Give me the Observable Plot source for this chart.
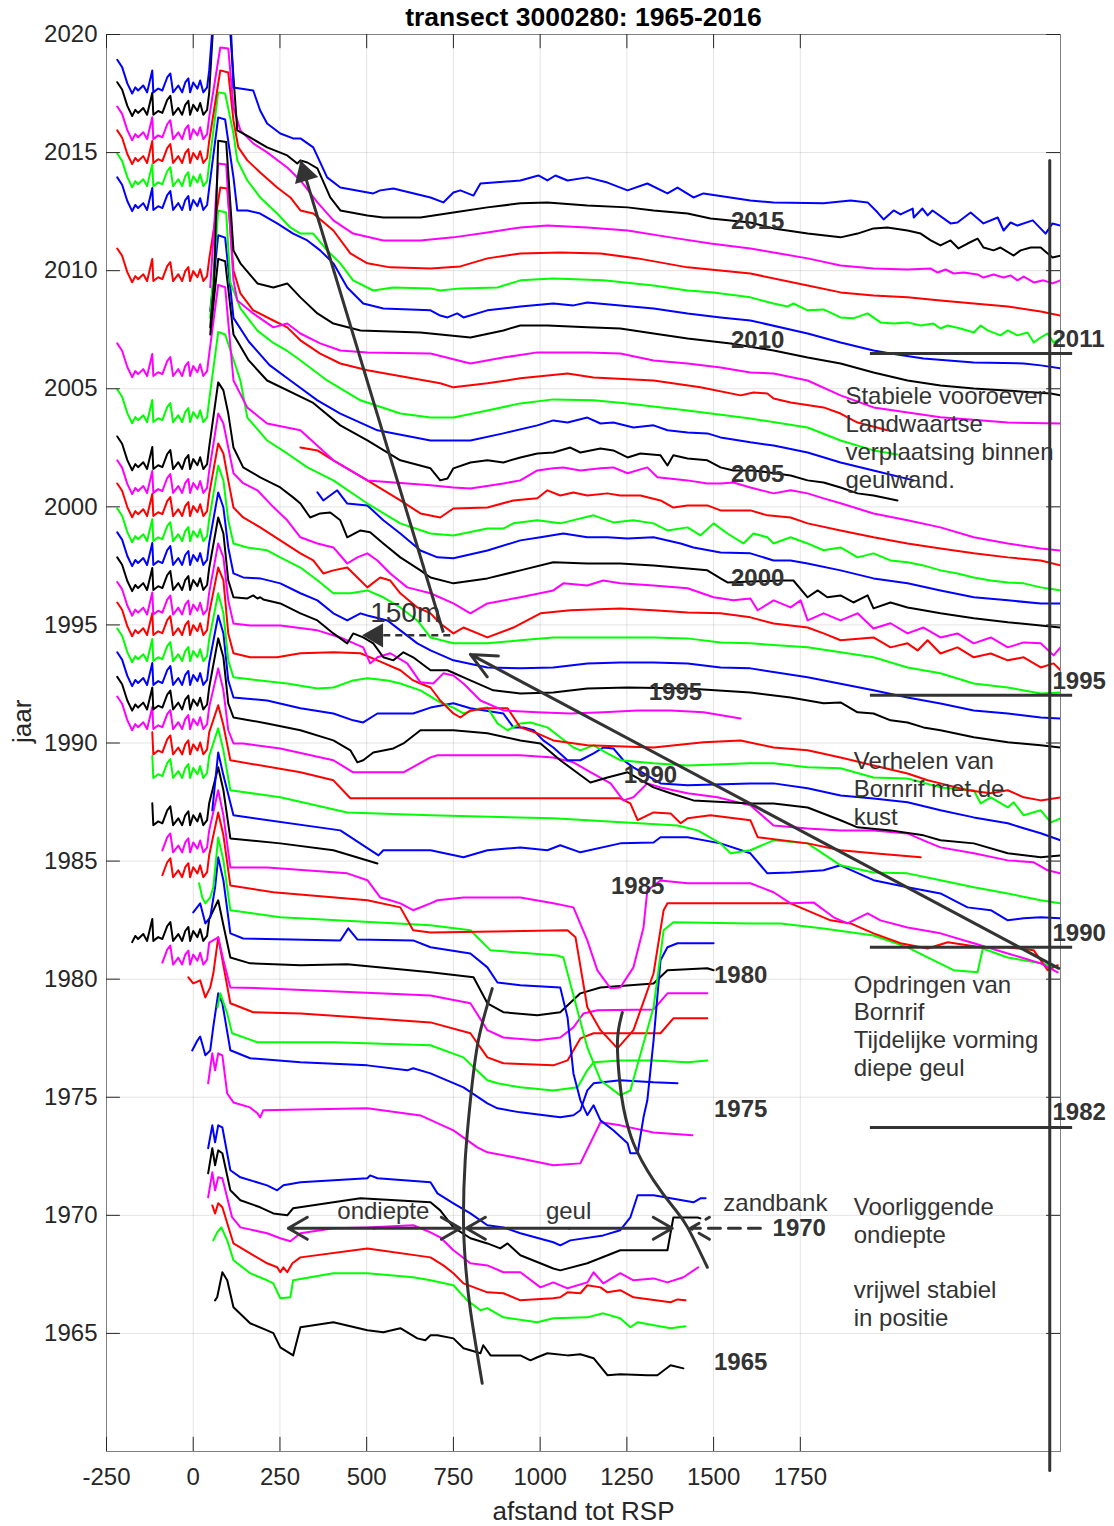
<!DOCTYPE html>
<html><head><meta charset="utf-8">
<script src="https://cdn.jsdelivr.net/npm/d3@7"></script>
<script src="https://cdn.jsdelivr.net/npm/@observablehq/plot@0.6"></script>
<style>body{margin:0;background:#fff}</style>
</head><body><div id="chart"></div>
<script>
// ---------- axes ----------
const xTicks = [-250, 0, 250, 500, 750, 1000, 1250, 1500, 1750];
const yTicks = [1965, 1970, 1975, 1980, 1985, 1990, 1995, 2000, 2005, 2010, 2015, 2020];
const palette = ["#000000", "#0000ff", "#00ff00", "#ff0000", "#ff00ff"]; // by year mod 5

// ---------- dune zone pattern (left part, shared) ----------
const duneX  = [-219,-205,-190,-176,-167,-159,-144,-133,-118,-115,-101,-89,-75,-66,-58,-43,-32,-23,-14,-9,0,12,20,29,40,46];
const duneDY = [0,-0.31,-1.0,-1.43,-1.17,-1.3,-1.09,-1.38,-0.45,-1.38,-1.22,-1.3,-0.75,-0.58,-1.38,-1.09,-1.38,-0.96,-0.79,-1.38,-0.96,-1.22,-0.88,-1.38,-1.17,-0.45];
const duneYears = [2016,2015,2014,2013,2012,2011,2008,2004,2002,2000,1999,1998,1997,1996,1995,1994,1993,1992,1991,1990,1989,1988,1987,1985,1984,1983,1980,1979];
const duneBase  = [2018.93,2017.98,2016.95,2015.94,2014.96,2013.95,2010.94,2006.92,2004.97,2002.98,2001.97,2000.99,1999.93,1998.92,1997.86,1996.82,1995.95,1994.85,1993.84,1992.8,1991.97,1990.9,1989.9,1987.9,1986.75,1985.7,1983.0,1982.0];
const duneStart = [-220,-220,-220,-220,-220,-220,-220,-220,-220,-220,-220,-220,-220,-220,-220,-220,-220,-220,-220,-220,-220,-125,-120,-120,-95,-100,-185,-100];

// ---------- profiles: [afstand (m), plotted year-level] ----------
const p2016 = [[62,2021.5],[105,2021.5],[116,2017.76],[173,2017.63],[193,2016.78],[213,2016.23],[251,2015.81],[288,2015.6],[309,2015.6],[346,2015.22],[386,2013.95],[424,2013.52],[519,2013.27],[539,2013.4],[577,2013.48],[684,2013.1],[721,2012.89],[750,2013.31],[770,2013.4],[808,2013.18],[828,2013.69],[943,2013.82],[995,2014.03],[1021,2013.82],[1044,2014.03],[1079,2013.82],[1136,2013.95],[1194,2013.73],[1252,2013.4],[1309,2013.69],[1367,2013.27],[1396,2013.52],[1442,2013.1],[1471,2013.27],[1606,2012.97],[1673,2012.89],[1817,2012.85],[1895,2012.97],[1944,2012.89],[1973,2012.46],[1990,2012.17],[2019,2012.55],[2039,2012.38],[2074,2012.63],[2077,2012.25],[2102,2012.63],[2117,2012.34],[2131,2012.55],[2183,2012.0],[2203,2012.04],[2241,2012.46],[2278,2012.0],[2319,2012.25],[2336,2011.7],[2356,2012.04],[2376,2011.91],[2420,2012.13],[2457,2011.57],[2477,2012.0],[2500,2011.91]];
const p2015 = [[62,2021.5],[100,2021.5],[127,2015.94],[164,2015.64],[213,2015.22],[271,2014.88],[300,2014.54],[309,2014.67],[329,2014.58],[358,2014.33],[395,2013.1],[424,2012.55],[502,2012.34],[548,2012.25],[655,2012.25],[750,2012.46],[848,2012.68],[943,2012.85],[1021,2012.89],[1136,2012.76],[1252,2012.68],[1327,2012.55],[1425,2012.42],[1491,2012.21],[1606,2012.04],[1673,2011.79],[1771,2011.57],[1866,2011.41],[1915,2011.57],[1961,2011.79],[2001,2011.83],[2059,2011.7],[2097,2011.57],[2126,2011.28],[2154,2011.07],[2183,2011.28],[2206,2010.94],[2232,2011.15],[2261,2011.36],[2278,2010.98],[2307,2010.86],[2327,2010.98],[2365,2010.64],[2385,2010.86],[2414,2010.98],[2443,2010.98],[2463,2010.73],[2477,2010.56],[2500,2010.64]];
const p2014 = [[78,2019.45],[101,2019.41],[116,2016.91],[136,2015.94],[173,2015.39],[213,2015.01],[271,2014.37],[309,2013.82],[358,2012.89],[404,2012.13],[461,2011.57],[548,2011.28],[655,2011.28],[750,2011.41],[848,2011.62],[943,2011.83],[1021,2011.91],[1136,2011.83],[1252,2011.7],[1376,2011.41],[1491,2011.15],[1606,2010.94],[1673,2010.77],[1771,2010.52],[1866,2010.22],[1961,2010.09],[2059,2010.05],[2126,2010.09],[2146,2009.92],[2169,2010.05],[2192,2009.88],[2221,2009.92],[2261,2009.84],[2278,2009.71],[2307,2009.84],[2336,2009.71],[2356,2009.8],[2376,2009.59],[2394,2009.75],[2423,2009.5],[2451,2009.59],[2477,2009.46],[2500,2009.59]];
const p2013 = [[78,2018.48],[101,2018.39],[116,2016.36],[130,2015.22],[156,2014.67],[193,2014.16],[242,2013.52],[280,2013.1],[309,2012.55],[346,2012.42],[404,2011.7],[453,2010.73],[502,2010.31],[568,2010.14],[684,2010.09],[770,2010.18],[848,2010.52],[943,2010.73],[1058,2010.77],[1174,2010.73],[1281,2010.52],[1425,2010.14],[1606,2009.88],[1771,2009.37],[1866,2009.08],[1961,2008.95],[2059,2008.87],[2154,2008.74],[2250,2008.61],[2348,2008.48],[2443,2008.27],[2500,2008.1]];
const p2012 = [[72,2017.55],[92,2017.5],[116,2015.81],[127,2014.67],[156,2013.82],[193,2013.1],[242,2012.42],[280,2011.83],[309,2011.57],[346,2011.57],[386,2010.86],[424,2010.31],[461,2009.59],[519,2009.16],[577,2009.29],[684,2009.25],[712,2009.16],[770,2009.25],[877,2009.29],[943,2009.59],[1038,2009.67],[1182,2009.59],[1327,2009.37],[1425,2009.16],[1500,2009.08],[1606,2008.87],[1673,2008.61],[1713,2008.48],[1730,2008.61],[1771,2008.32],[1817,2008.36],[1866,2008.02],[1903,2007.98],[1944,2008.19],[1981,2007.81],[2019,2007.76],[2059,2007.81],[2097,2007.68],[2134,2007.76],[2154,2007.55],[2175,2007.68],[2212,2007.55],[2250,2007.38],[2270,2007.68],[2290,2007.47],[2327,2007.26],[2348,2007.47],[2376,2007.26],[2405,2007.38],[2423,2006.96],[2443,2007.17],[2463,2007.34],[2480,2006.96],[2500,2007.13]];
const p2011 = [[72,2016.49],[92,2016.4],[116,2013.95],[127,2012.55],[156,2012.55],[193,2012.42],[242,2012.0],[288,2011.57],[329,2011.28],[366,2010.86],[404,2010.31],[444,2009.29],[490,2008.61],[548,2008.4],[684,2008.32],[712,2008.1],[733,2008.02],[761,2008.19],[779,2008.02],[848,2008.32],[943,2008.48],[1038,2008.61],[1096,2008.53],[1136,2008.65],[1231,2008.53],[1327,2008.4],[1425,2008.19],[1520,2008.02],[1606,2007.89],[1771,2007.34],[1866,2006.96],[1961,2006.62],[2010,2006.49],[2105,2006.28],[2250,2006.11],[2394,2006.07],[2443,2005.99],[2500,2005.86]];
const p2010 = [[49,2007.6],[60,2009.5],[72,2015.5],[95,2015.45],[116,2010.86],[136,2010.31],[185,2009.46],[231,2009.29],[271,2009.46],[309,2008.87],[358,2008.19],[404,2007.76],[482,2007.47],[655,2007.38],[799,2007.17],[894,2007.47],[943,2007.68],[1021,2007.68],[1136,2007.6],[1231,2007.55],[1327,2007.34],[1425,2007.13],[1549,2006.92],[1673,2006.62],[1771,2006.32],[1866,2006.07],[1961,2005.69],[2059,2005.35],[2154,2005.14],[2250,2005.01],[2472,2004.8],[2500,2004.72]];
const p2009 = [[49,2009.3],[72,2014.54],[95,2014.5],[116,2009.59],[127,2008.74],[173,2008.19],[231,2007.6],[271,2007.76],[309,2007.34],[366,2006.92],[424,2006.62],[502,2006.54],[684,2006.49],[799,2006.07],[894,2006.32],[992,2006.54],[1136,2006.54],[1231,2006.49],[1327,2006.2],[1425,2006.07],[1520,2005.9],[1606,2005.69],[1673,2005.65],[1771,2005.35],[1866,2004.72],[1961,2004.21],[2154,2003.79],[2348,2003.57],[2500,2003.53]];
const p2008 = [[78,2013.52],[98,2013.48],[116,2010.01],[136,2009.04],[173,2008.32],[231,2007.89],[271,2007.6],[309,2007.05],[366,2006.49],[424,2006.07],[502,2005.78],[712,2005.23],[750,2005.06],[848,2005.23],[943,2005.44],[1079,2005.65],[1154,2005.48],[1327,2005.35],[1462,2005.06],[1578,2004.72],[1615,2004.84],[1655,2004.8],[1673,2004.59],[1722,2004.42],[1817,2004.21],[1866,2003.95],[1915,2003.57],[2001,2003.24]];
const p2007 = [[49,2008.0],[72,2012.55],[95,2012.46],[107,2009.5],[136,2008.4],[185,2007.46],[231,2006.94],[271,2006.6],[300,2006.3],[386,2005.35],[482,2004.51],[597,2003.95],[684,2003.78],[750,2003.78],[848,2004.08],[943,2004.38],[1038,2004.55],[1154,2004.51],[1252,2004.38],[1425,2004.08],[1606,2003.74],[1771,2003.36],[1866,2002.81],[1961,2002.39],[2030,2002.22]];
const p2006 = [[49,2008.3],[72,2011.5],[92,2011.4],[116,2008.0],[160,2007.0],[220,2006.0],[280,2005.35],[358,2004.51],[424,2003.95],[531,2003.24],[684,2002.81],[799,2002.81],[894,2003.11],[992,2003.45],[1038,2003.66],[1079,2003.57],[1136,2003.78],[1174,2003.53],[1211,2003.57],[1269,2003.36],[1327,2003.45],[1367,2003.24],[1425,2003.15],[1482,2003.11],[1520,2002.94],[1606,2002.73],[1673,2002.6],[1771,2002.3],[1866,2001.88],[1961,2001.54],[2077,2001.12]];
const p2005 = [[49,2007.3],[72,2010.5],[92,2010.4],[116,2007.3],[160,2006.2],[213,2005.35],[346,2004.4],[424,2003.45],[502,2002.81],[597,2001.97],[684,2001.63],[712,2001.12],[733,2001.2],[750,2001.63],[799,2001.88],[848,2001.97],[894,2001.88],[943,2002.09],[992,2002.26],[1038,2002.3],[1087,2002.51],[1116,2002.3],[1174,2002.47],[1211,2002.39],[1252,2002.09],[1289,2002.26],[1347,2002.18],[1367,2001.75],[1384,2002.18],[1425,2002.05],[1482,2001.97],[1520,2001.67],[1557,2001.54],[1615,2001.54],[1722,2001.33],[1771,2001.12],[1817,2001.03],[1866,2000.82],[1915,2000.57],[1961,2000.48],[2030,2000.27]];
const p2004 = [[72,2009.4],[92,2009.3],[116,2005.35],[156,2004.2],[213,2003.53],[309,2003.24],[404,2001.97],[502,2001.12],[684,2000.91],[750,2000.82],[799,2000.78],[894,2000.99],[943,2001.12],[992,2001.54],[1038,2001.63],[1067,2001.67],[1116,2001.54],[1174,2001.63],[1211,2001.67],[1252,2001.42],[1309,2001.67],[1338,2001.25],[1425,2001.12],[1482,2000.99],[1520,2000.99],[1557,2001.03],[1606,2000.82],[1673,2000.57],[1722,2000.7],[1771,2000.57],[1817,2000.36],[1866,2000.15],[1961,1999.72],[2059,1999.43],[2154,1999.13],[2250,1998.71],[2348,1998.45],[2443,1998.24],[2500,1998.15]];
const p2003 = [[309,2002.51],[358,2002.39],[404,2001.97],[502,2001.12],[597,2000.27],[655,1999.72],[712,1999.55],[750,1999.93],[848,1999.97],[923,2000.27],[992,2000.36],[1021,2000.7],[1058,2000.48],[1096,2000.61],[1136,2000.48],[1194,2000.57],[1231,2000.48],[1289,2000.48],[1347,2000.27],[1384,1999.97],[1425,2000.06],[1482,2000.06],[1520,1999.85],[1606,1999.85],[1655,1999.64],[1722,1999.55],[1771,1999.3],[1866,1999.0],[1961,1998.71],[2059,1998.45],[2154,1998.24],[2250,1998.03],[2348,1997.86],[2443,1997.73],[2500,1997.52]];
const p2002 = [[72,2007.4],[92,2007.3],[136,2005.35],[156,2003.78],[213,2002.81],[271,2002.26],[329,2001.67],[404,2001.12],[502,2000.14],[597,1999.3],[684,1998.87],[750,1998.79],[848,1999.08],[894,1999.08],[923,1999.3],[992,1999.43],[1058,1999.3],[1154,1999.64],[1211,1999.34],[1269,1999.43],[1327,1999.3],[1367,1999.0],[1425,1999.13],[1462,1998.79],[1500,1999.3],[1540,1998.87],[1586,1998.45],[1615,1998.87],[1655,1998.71],[1673,1998.45],[1722,1998.71],[1771,1998.45],[1817,1998.16],[1866,1998.28],[1915,1997.86],[1961,1998.03],[2010,1997.73],[2059,1997.65],[2105,1997.52],[2154,1997.31],[2203,1997.18],[2250,1997.01],[2299,1996.88],[2348,1996.8],[2394,1996.76],[2443,1996.59],[2500,1996.46]];
const p2001 = [[358,2000.61],[375,2000.27],[415,2000.7],[444,2000.14],[502,2000.06],[548,1999.43],[597,1998.87],[655,1998.15],[704,1997.86],[750,1997.82],[848,1998.15],[943,1998.58],[1001,1998.71],[1067,1998.87],[1136,1998.71],[1194,1998.71],[1252,1998.66],[1327,1998.71],[1405,1998.45],[1442,1998.28],[1520,1998.07],[1606,1998.03],[1673,1997.73],[1722,1997.73],[1771,1997.6],[1866,1997.31],[1961,1996.97],[2059,1996.76],[2154,1996.46],[2250,1996.17],[2348,1996.04],[2443,1995.91],[2500,1995.91]];
const p2000 = [[72,2005.27],[87,2004.93],[101,2003.95],[116,2002.51],[144,2001.67],[193,2001.25],[251,2000.82],[288,2000.4],[309,2000.14],[337,1999.55],[366,1999.72],[395,1999.76],[424,1999.43],[444,1998.71],[482,1999.0],[510,1998.92],[548,1998.45],[597,1997.86],[655,1997.31],[684,1997.01],[750,1996.76],[848,1996.97],[943,1997.31],[1038,1997.65],[1136,1997.6],[1231,1997.6],[1327,1997.52],[1425,1997.39],[1482,1997.31],[1520,1996.97],[1540,1996.8],[1693,1996.88],[1730,1996.88],[1771,1996.17],[1800,1996.46],[1828,1996.17],[1866,1996.25],[1903,1995.95],[1944,1996.25],[1961,1995.7],[2010,1995.95],[2059,1995.74],[2105,1995.62],[2154,1995.49],[2250,1995.28],[2348,1995.11],[2443,1994.98],[2500,1994.89]];
const p1999 = [[72,2003.95],[87,2003.53],[101,2002.51],[116,2001.42],[144,2001.0],[185,2000.7],[231,1999.99],[271,1999.43],[309,1998.71],[358,1998.45],[404,1998.28],[444,1997.6],[473,1997.86],[502,1998.03],[531,1997.73],[568,1997.18],[617,1996.59],[684,1996.34],[750,1995.91],[799,1995.49],[848,1995.91],[943,1996.17],[1038,1996.46],[1067,1996.76],[1136,1996.67],[1182,1996.88],[1231,1996.76],[1327,1996.67],[1425,1996.55],[1500,1996.17],[1557,1996.04],[1606,1996.12],[1627,1995.62],[1673,1996.04],[1722,1995.74],[1751,1996.04],[1771,1995.19],[1817,1995.49],[1866,1995.19],[1915,1995.49],[1961,1994.85],[2010,1995.07],[2059,1994.64],[2105,1994.89],[2154,1994.47],[2203,1994.64],[2250,1994.22],[2299,1994.47],[2348,1994.05],[2394,1994.26],[2443,1994.22],[2480,1993.71],[2500,1994.05]];
const p1998 = [[72,2002.68],[87,2002.26],[101,2001.12],[116,1999.97],[144,1999.55],[193,1999.13],[251,1998.58],[309,1998.03],[346,1997.73],[375,1997.18],[404,1997.31],[444,1997.43],[482,1996.88],[502,1996.59],[539,1997.01],[568,1996.88],[597,1996.34],[646,1995.74],[684,1995.49],[712,1995.06],[750,1994.64],[779,1994.89],[848,1994.47],[923,1994.89],[1001,1995.49],[1087,1995.62],[1231,1995.7],[1327,1995.62],[1425,1995.53],[1520,1995.49],[1606,1995.32],[1673,1995.06],[1771,1994.89],[1817,1994.64],[1866,1994.35],[1961,1994.47],[2010,1994.05],[2059,1994.22],[2088,1993.92],[2117,1994.35],[2154,1993.79],[2203,1994.05],[2250,1993.63],[2299,1993.79],[2348,1993.5],[2394,1993.63],[2443,1993.2],[2480,1993.37],[2500,1993.08]];
const p1997 = [[72,2001.75],[87,2001.12],[101,1999.43],[116,1998.45],[156,1998.28],[213,1998.16],[251,1997.86],[309,1997.43],[358,1996.89],[404,1996.34],[453,1996.34],[502,1996.46],[548,1996.17],[597,1995.74],[646,1995.19],[684,1994.47],[750,1994.22],[848,1994.22],[943,1994.35],[1038,1994.47],[1136,1994.47],[1231,1994.47],[1327,1994.47],[1425,1994.43],[1520,1994.26],[1606,1994.22],[1771,1994.05],[1961,1993.63],[2059,1993.2],[2154,1992.95],[2250,1992.52],[2348,1992.35],[2443,1992.1],[2500,1992.14]];
const p1996 = [[72,2000.61],[87,1999.97],[101,1998.28],[116,1997.18],[144,1997.01],[193,1996.97],[251,1996.76],[309,1996.34],[358,1996.04],[404,1995.49],[444,1995.19],[482,1995.49],[502,1995.4],[560,1995.19],[597,1994.77],[646,1994.22],[684,1993.92],[750,1993.5],[848,1993.2],[943,1993.16],[1038,1993.2],[1136,1993.37],[1231,1993.41],[1327,1993.41],[1425,1993.37],[1520,1993.2],[1606,1993.16],[1771,1992.78],[1961,1992.23],[2059,1991.93],[2154,1991.67],[2250,1991.38],[2348,1991.25],[2443,1991.08],[2500,1991.04]];
const p1995 = [[72,1999.55],[87,1998.87],[101,1996.89],[116,1996.17],[156,1996.12],[173,1996.25],[185,1996.12],[193,1996.17],[202,1996.08],[251,1995.91],[309,1995.49],[358,1995.19],[404,1994.64],[444,1994.22],[461,1994.64],[490,1994.47],[519,1994.22],[548,1993.63],[577,1993.5],[606,1993.84],[634,1993.63],[684,1993.08],[733,1993.08],[799,1992.65],[865,1992.23],[943,1992.1],[1038,1992.14],[1136,1992.31],[1252,1992.35],[1425,1992.31],[1606,1992.14],[1722,1991.93],[1817,1991.68],[1866,1991.72],[1915,1991.3],[1961,1991.25],[2010,1990.96],[2059,1990.87],[2105,1990.66],[2154,1990.54],[2250,1990.24],[2348,1990.03],[2443,1989.9],[2500,1989.81]];
const p1994 = [[72,1998.45],[87,1997.86],[101,1996.04],[116,1995.06],[164,1994.98],[251,1994.98],[358,1994.77],[424,1994.47],[490,1994.05],[510,1993.37],[531,1993.63],[568,1993.8],[617,1993.37],[655,1992.57],[692,1992.52],[721,1992.95],[750,1992.86],[779,1992.52],[828,1991.8],[894,1991.38],[992,1991.3],[1087,1991.25],[1182,1991.3],[1281,1991.38],[1376,1991.38],[1471,1991.3],[1578,1991.04]];
const p1993 = [[72,1997.43],[87,1996.89],[101,1994.64],[116,1993.8],[164,1993.63],[242,1993.63],[309,1993.8],[404,1993.84],[482,1993.8],[531,1993.5],[597,1993.08],[634,1992.65],[655,1992.52],[684,1992.35],[712,1991.8],[750,1991.25],[770,1991.08],[799,1991.38],[848,1991.47],[906,1991.47],[943,1990.66],[992,1990.41],[1038,1990.11],[1136,1989.9],[1327,1989.81],[1471,1990.03],[1578,1990.11],[1673,1989.81],[1771,1989.69],[1866,1989.39],[1961,1989.05],[2059,1988.71],[2117,1988.42],[2154,1988.29],[2232,1988.0],[2299,1987.87],[2348,1988.0],[2394,1987.7],[2443,1987.57],[2500,1987.7]];
const p1992 = [[72,1996.34],[87,1995.49],[101,1993.5],[116,1992.78],[193,1992.65],[271,1992.52],[358,1992.31],[404,1992.35],[461,1992.65],[502,1992.74],[560,1992.65],[597,1992.52],[655,1992.23],[712,1991.72],[750,1991.5],[779,1991.25],[828,1991.47],[848,1991.5],[877,1990.83],[906,1990.54],[943,1990.83],[972,1990.87],[1021,1990.66],[1058,1990.24],[1096,1989.81],[1116,1989.69],[1154,1989.9],[1194,1989.56],[1231,1989.27],[1327,1989.14],[1425,1989.05],[1606,1989.14],[1673,1989.14],[1771,1988.97],[1866,1988.93],[1961,1988.54],[2059,1988.5],[2154,1988.12],[2250,1988.0],[2270,1987.44],[2299,1987.7],[2348,1987.27],[2365,1987.49],[2394,1986.94],[2443,1987.15],[2472,1986.64],[2500,1986.81]];
const p1991 = [[72,1995.4],[87,1994.64],[101,1992.65],[116,1991.93],[213,1991.8],[309,1991.47],[404,1991.25],[461,1990.96],[490,1990.87],[531,1991.25],[577,1991.25],[634,1991.25],[684,1991.5],[750,1991.68],[799,1991.47],[894,1991.25],[923,1990.66],[952,1990.66],[981,1990.54],[1009,1990.11],[1038,1989.81],[1079,1989.27],[1116,1989.27],[1154,1989.56],[1182,1989.81],[1211,1989.77],[1240,1989.27],[1269,1988.97],[1347,1988.29],[1425,1988.21],[1606,1988.29],[1673,1988.29],[1771,1988.08],[1866,1987.78],[1961,1987.65],[2059,1987.49],[2154,1987.15],[2250,1986.85],[2348,1986.6],[2394,1986.39],[2443,1986.18],[2500,1985.88]];
const p1990 = [[72,1994.43],[87,1993.63],[101,1991.68],[116,1991.08],[213,1990.83],[309,1990.54],[404,1990.11],[453,1989.69],[473,1989.18],[490,1989.27],[519,1989.6],[577,1989.77],[606,1989.98],[655,1990.54],[750,1990.54],[848,1990.41],[943,1990.11],[1001,1989.98],[1058,1989.27],[1145,1988.33],[1194,1988.54],[1252,1988.76],[1327,1988.12],[1376,1987.87],[1442,1987.57],[1606,1987.44],[1673,1987.44],[1771,1987.27],[1866,1986.73],[1915,1986.43],[2010,1986.3],[2105,1986.09],[2154,1985.88],[2250,1985.75],[2348,1985.33],[2443,1985.16],[2500,1985.24]];
const p1989 = [[72,1993.16],[87,1992.23],[101,1990.54],[116,1989.98],[144,1989.98],[251,1989.77],[404,1989.27],[461,1988.76],[606,1988.76],[684,1989.39],[704,1989.48],[943,1989.48],[1038,1989.39],[1096,1989.18],[1136,1988.84],[1203,1988.29],[1240,1987.57],[1269,1987.7],[1309,1988.29],[1347,1988.12],[1425,1987.87],[1511,1987.7],[1606,1987.36],[1673,1986.51],[1771,1986.38],[1866,1986.3],[1961,1986.3],[2059,1986.17],[2105,1985.88],[2154,1985.58],[2250,1985.33],[2348,1985.03],[2423,1984.95],[2463,1984.61],[2500,1984.48]];
const p1988 = [[72,1991.6],[87,1990.75],[107,1989.27],[309,1988.76],[404,1988.42],[453,1987.66],[684,1987.66],[1231,1987.66],[1260,1987.44],[1281,1986.73],[1327,1987.06],[1376,1987.02],[1405,1986.6],[1425,1986.81],[1491,1986.94],[1606,1986.73],[1627,1986.01],[1771,1985.75],[1866,1985.46],[1961,1985.33],[2097,1985.16]];
const p1987 = [[72,1990.62],[87,1989.69],[107,1988.0],[251,1987.7],[444,1987.06],[684,1986.94],[1038,1986.81],[1396,1986.51],[1454,1986.3],[1520,1985.75],[1549,1985.33],[1606,1985.46],[1673,1985.88],[1771,1985.75],[1866,1984.82],[1961,1984.52],[2059,1984.48],[2154,1984.19],[2250,1983.89],[2348,1983.63],[2443,1983.34],[2500,1983.21]];
const p1986 = [[55,1987.15],[72,1989.6],[87,1988.63],[116,1986.94],[424,1986.3],[534,1985.24],[548,1985.46],[684,1985.46],[779,1985.16],[848,1985.46],[943,1985.58],[1021,1985.46],[1058,1985.67],[1116,1985.37],[1231,1985.75],[1327,1985.79],[1347,1986.01],[1425,1986.01],[1520,1985.75],[1606,1985.33],[1655,1984.48],[1722,1984.52],[1817,1984.61],[1866,1984.82],[1961,1984.19],[2059,1983.89],[2154,1983.63],[2232,1983.04],[2299,1982.92],[2348,1982.49],[2394,1982.58],[2443,1982.62],[2500,1982.58]];
const p1985 = [[72,1988.97],[87,1988.0],[107,1985.96],[251,1985.75],[404,1985.46],[531,1984.9]];
const p1984 = [[72,1988.0],[87,1986.94],[107,1984.73],[213,1984.73],[444,1984.48],[502,1984.19],[539,1983.46],[568,1983.34],[597,1983.21],[634,1982.92],[684,1983.21],[704,1983.34],[779,1983.46],[943,1983.46],[1038,1983.21],[1096,1983.04],[1136,1981.64],[1165,1980.37],[1203,1979.61],[1231,1979.65],[1269,1980.5],[1298,1982.19],[1309,1983.76],[1347,1984.18],[1425,1984.06],[1606,1984.06],[1673,1983.68],[1722,1983.21],[1788,1983.25],[1846,1982.62],[1886,1982.36],[1944,1982.79],[1981,1982.49],[2059,1982.19],[2154,1981.94],[2250,1981.52],[2348,1981.09],[2443,1980.67],[2492,1980.29]];
const p1983 = [[72,1987.06],[87,1986.09],[107,1983.97],[231,1983.68],[502,1983.34],[597,1983.04],[634,1982.07],[684,1981.98],[1079,1982.07],[1102,1981.77],[1136,1978.81],[1174,1977.84],[1223,1977.07],[1269,1977.84],[1327,1980.25],[1356,1982.92],[1367,1983.21],[1606,1983.21],[1722,1983.21],[1837,1982.49],[1895,1982.36],[1961,1981.94],[2039,1981.52],[2117,1981.3],[2175,1981.56],[2270,1981.35],[2348,1981.35],[2423,1981.22],[2463,1980.38],[2492,1980.59]];
const p1982 = [[17,1984.06],[26,1983.46],[35,1983.21],[49,1983.46],[58,1983.89],[72,1986.0],[87,1985.03],[107,1982.92],[251,1982.62],[684,1982.28],[799,1982.07],[857,1981.22],[1050,1981.0],[1067,1980.92],[1136,1977.11],[1174,1975.72],[1231,1975.08],[1260,1975.29],[1327,1978.81],[1356,1982.07],[1384,1982.41],[1606,1982.36],[1693,1982.36],[1817,1982.15],[1961,1981.85],[2059,1981.35],[2117,1980.92],[2192,1980.38],[2261,1980.29],[2276,1981.3],[2348,1980.92],[2443,1980.67],[2492,1980.5]];
const p1981 = [[0,1982.83],[20,1983.21],[35,1982.36],[49,1982.62],[63,1983.89],[72,1985.16],[87,1984.18],[107,1981.94],[144,1981.72],[424,1981.64],[447,1982.15],[473,1981.68],[634,1981.64],[684,1981.35],[799,1981.09],[848,1980.5],[877,1979.86],[943,1979.74],[1058,1979.65],[1079,1978.38],[1096,1976.01],[1116,1974.87],[1136,1974.24],[1154,1974.66],[1174,1974.02],[1211,1973.6],[1252,1973.05],[1260,1972.63],[1281,1972.63],[1298,1974.15],[1309,1974.87],[1327,1977.41],[1347,1980.8],[1367,1981.35],[1396,1981.52],[1500,1981.52]];
const p1980 = [[72,1983.34],[87,1982.28],[107,1980.92],[164,1980.67],[309,1980.59],[444,1980.63],[684,1980.29],[808,1980.08],[848,1978.98],[894,1978.6],[992,1978.47],[1058,1978.6],[1116,1979.4],[1174,1979.65],[1327,1979.82],[1367,1980.38],[1482,1980.46],[1500,1980.38]];
const p1979 = [[72,1981.77],[87,1980.8],[107,1979.65],[213,1979.61],[684,1979.31],[799,1978.98],[848,1977.84],[894,1977.53],[992,1977.41],[1058,1977.53],[1096,1977.96],[1125,1978.55],[1165,1978.68],[1327,1978.72],[1367,1979.4],[1482,1979.4]];
const p1978 = [[-14,1980.08],[0,1979.82],[20,1979.95],[35,1979.23],[49,1979.65],[58,1980.25],[72,1981.77],[87,1980.59],[107,1978.98],[173,1978.6],[309,1978.55],[684,1978.17],[799,1977.71],[848,1976.69],[894,1976.44],[1038,1976.35],[1079,1976.56],[1116,1977.49],[1154,1977.71],[1231,1977.71],[1347,1977.71],[1384,1978.34],[1482,1978.34]];
const p1977 = [[70,1978.8],[78,1979.4],[98,1978.55],[112,1977.71],[185,1977.33],[404,1977.33],[684,1977.2],[779,1976.69],[808,1976.27],[848,1975.72],[877,1975.59],[943,1975.42],[1038,1975.29],[1108,1975.42],[1136,1976.14],[1154,1976.48],[1231,1976.56],[1327,1976.56],[1425,1976.48],[1482,1976.56]];
const p1976 = [[-3,1976.98],[12,1977.4],[20,1977.57],[35,1976.78],[49,1976.98],[58,1978.0],[72,1979.4],[84,1978.98],[107,1976.99],[164,1976.65],[309,1976.48],[502,1976.35],[617,1976.14],[634,1976.23],[684,1976.01],[779,1975.42],[848,1974.74],[877,1974.53],[943,1974.36],[1058,1974.15],[1096,1974.24],[1116,1974.45],[1136,1975.29],[1154,1975.59],[1231,1975.72],[1327,1975.63],[1396,1975.59]];
const p1974 = [[43,1975.59],[55,1976.86],[63,1976.14],[72,1976.86],[84,1976.77],[98,1975.16],[116,1974.78],[164,1974.57],[185,1974.32],[193,1974.15],[202,1974.45],[502,1974.53],[655,1974.23],[750,1973.6],[819,1972.88],[848,1972.67],[943,1972.41],[1038,1972.12],[1116,1972.2],[1174,1973.94],[1231,1973.81],[1327,1973.51],[1439,1973.39]];
const p1971 = [[43,1972.84],[55,1973.81],[63,1973.09],[72,1973.81],[84,1973.72],[107,1971.91],[136,1971.61],[213,1971.27],[242,1971.06],[260,1971.27],[309,1971.4],[502,1971.57],[510,1971.69],[531,1971.57],[684,1971.4],[704,1970.93],[750,1970.51],[799,1970.08],[848,1969.58],[894,1969.49],[943,1969.24],[1038,1968.86],[1058,1968.73],[1087,1968.94],[1182,1969.15],[1231,1969.37],[1260,1969.91],[1281,1970.85],[1327,1970.85],[1442,1970.55],[1462,1970.72],[1477,1970.72]];
const p1970 = [[43,1971.78],[55,1972.84],[63,1972.12],[72,1972.75],[84,1972.63],[107,1971.06],[136,1970.64],[193,1970.34],[231,1970.08],[271,1970.0],[288,1970.3],[404,1970.55],[482,1970.72],[684,1970.55],[712,1970.21],[750,1969.49],[799,1969.03],[848,1968.81],[885,1968.6],[906,1968.81],[943,1968.31],[1038,1967.75],[1058,1967.67],[1136,1967.97],[1231,1968.52],[1367,1968.52],[1384,1969.91],[1454,1969.91],[1462,1969.87]];
const p1969 = [[43,1970.76],[55,1971.82],[63,1971.06],[72,1971.61],[84,1971.57],[112,1969.92],[136,1969.49],[213,1969.24],[251,1969.03],[280,1968.9],[309,1969.24],[404,1969.45],[502,1969.49],[634,1969.58],[684,1969.28],[712,1969.07],[750,1968.52],[799,1967.97],[848,1967.88],[894,1967.59],[943,1967.59],[1001,1966.95],[1038,1967.16],[1079,1966.91],[1136,1967.16],[1154,1967.59],[1182,1967.12],[1231,1967.55],[1269,1967.25],[1327,1967.33],[1367,1967.16],[1413,1967.38],[1456,1967.8]];
const p1968 = [[55,1970.42],[63,1970.08],[72,1970.51],[84,1970.34],[116,1968.81],[164,1968.39],[213,1967.97],[242,1967.8],[251,1967.59],[260,1967.8],[271,1967.59],[286,1967.97],[309,1968.22],[502,1968.6],[684,1968.22],[721,1967.88],[750,1967.55],[779,1967.12],[848,1966.74],[894,1966.7],[943,1966.4],[1038,1966.49],[1058,1966.53],[1079,1966.74],[1116,1966.7],[1136,1967.04],[1174,1966.95],[1194,1966.74],[1231,1966.83],[1269,1966.53],[1376,1966.32],[1396,1966.44],[1419,1966.4]];
const p1967 = [[58,1968.94],[69,1969.28],[81,1969.49],[98,1968.94],[116,1968.1],[164,1967.55],[213,1967.25],[231,1967.12],[251,1966.49],[280,1966.53],[288,1967.25],[404,1967.55],[502,1967.55],[634,1967.38],[684,1967.25],[750,1967.04],[790,1966.4],[828,1965.98],[848,1966.07],[894,1965.68],[992,1965.47],[1038,1965.64],[1136,1965.68],[1182,1965.85],[1231,1965.64],[1260,1965.26],[1281,1965.47],[1376,1965.22],[1419,1965.3]];
const p1965 = [[63,1966.4],[69,1966.53],[84,1967.59],[98,1967.25],[116,1966.11],[164,1965.43],[213,1965.13],[231,1965.01],[251,1964.41],[288,1964.07],[309,1965.26],[404,1965.47],[502,1965.13],[548,1965.05],[597,1965.22],[646,1964.79],[669,1964.71],[684,1964.92],[704,1964.92],[750,1964.79],[779,1964.37],[828,1964.16],[836,1964.5],[857,1964.07],[943,1964.07],[972,1963.86],[992,1963.99],[1021,1964.16],[1079,1964.07],[1116,1964.12],[1154,1963.95],[1194,1963.23],[1231,1963.27],[1309,1963.23],[1338,1963.23],[1376,1963.65],[1413,1963.52]];

const profileYears = [1965,1967,1968,1969,1970,1971,1974,1976,1977,1978,1979,1980,1981,1982,1983,1984,1985,1986,1987,1988,1989,1990,1991,1992,1993,1994,1995,1996,1997,1998,1999,2000,2001,2002,2003,2004,2005,2006,2007,2008,2009,2010,2011,2012,2013,2014,2015,2016];
const profilePoints = [p1965,p1967,p1968,p1969,p1970,p1971,p1974,p1976,p1977,p1978,p1979,p1980,p1981,p1982,p1983,p1984,p1985,p1986,p1987,p1988,p1989,p1990,p1991,p1992,p1993,p1994,p1995,p1996,p1997,p1998,p1999,p2000,p2001,p2002,p2003,p2004,p2005,p2006,p2007,p2008,p2009,p2010,p2011,p2012,p2013,p2014,p2015,p2016];

// ---------- annotations ----------
const yearLabels = [["2015",1627,2012.08],["2010",1627,2007.05],["2005",1627,2001.37],["2000",1627,1996.97],["1995",1390,1992.14],["1990",1318,1988.63],["1985",1281,1983.93],["1980",1578,1980.17],["1975",1578,1974.49],["1965",1578,1963.78]];
const noteLines = [["Stabiele vooroever",1880,2004.68],["Landwaartse",1880,2003.49],["verplaatsing binnen",1880,2002.3],["geulwand.",1880,2001.12],
  ["Verhelen van",1904,1989.22],["Bornrif met de",1904,1988.04],["kust",1904,1986.85],
  ["Opdringen van",1904,1979.74],["Bornrif",1904,1978.59],["Tijdelijke vorming",1904,1977.41],["diepe geul",1904,1976.22],
  ["Voorliggende",1904,1970.34],["ondiepte",1904,1969.15],["vrijwel stabiel",1904,1966.82],["in positie",1904,1965.64]];
const markYears = [["2011",2006.49,2007.09],["1995",1992.02,1992.61],["1990",1981.35,1981.94],["1982",1973.72,1974.36]];
const markX = [1952, 2535, 2477];
const vLine = [[2469,2014.67],[2469,1959.2]];
const channelLeft = [[862,1979.6],[822,1977.41],[799,1974.87],[784,1972.33],[779,1969.91],[784,1968.1],[799,1965.98],[833,1962.89]];
const channelRight = [[1237,1978.59],[1223,1977.41],[1229,1975.72],[1240,1974.57],[1269,1973.05],[1327,1971.48],[1384,1970.34],[1425,1969.49],[1482,1967.8]];
const openArrows = [ // x1,y1,x2,y2
  [2495,1980.46,799,1993.75]];
const doubleArrows = [
  [522,1969.45,274,1969.45],[522,1969.45,770,1969.45],
  [1084,1969.45,787,1969.45],[1084,1969.45,1381,1969.45]];
const dashedArrows = [[1635,1969.45,1433,1969.45]];
const solidArrowUp = [[721,1994.68,309,2014.67]];
const dashed150 = [[741,1994.56,500,1994.56]];
const arrowHeads = [[321,2014.1,-16.9],[527,1994.56,-90]];
const smallNotes = [["ondiepte",548,1970.17],["geul",1082,1970.17],["zandbank",1678,1970.51]];

// ---------- build rows ----------
const rows = [];
profileYears.forEach((yr, i) => {
  const color = palette[yr % 5];
  const d = duneYears.indexOf(yr);
  if (d >= 0) {
    duneX.forEach((x, k) => { if (x >= duneStart[d]) rows.push({year: yr, x, y: duneBase[d] + duneDY[k], color}); });
  }
  profilePoints[i].forEach(([x, y]) => rows.push({year: yr, x, y, color}));
});

const F = "'Liberation Sans', Arial, Helvetica, sans-serif";
const INK = "#333333";
const tickLenYr = 0.6, tickLenM = 40;

const chart = Plot.plot({
  width: 1114, height: 1526,
  marginLeft: 106, marginRight: 54, marginTop: 34, marginBottom: 75,
  style: {fontFamily: F, background: "#fff", color: "#262626", overflow: "visible"},
  x: {domain: [-250, 2500]},
  y: {domain: [1960, 2020]},
  color: {type: "identity"},
  marks: [
    Plot.gridX(xTicks, {stroke: "#000", strokeOpacity: 0.11}),
    Plot.gridY(yTicks, {stroke: "#000", strokeOpacity: 0.11}),
    Plot.line(rows, {x: "x", y: "y", z: "year", stroke: "color", strokeWidth: 2, clip: true}),
    Plot.frame({stroke: "#808080"}),
    Plot.ruleX(xTicks, {x: d => d, y1: 1960, y2: 1960 + tickLenYr, stroke: "#262626"}),
    Plot.ruleX(xTicks, {x: d => d, y1: 2020 - tickLenYr, y2: 2020, stroke: "#262626"}),
    Plot.ruleY(yTicks, {y: d => d, x1: -250, x2: -250 + tickLenM, stroke: "#262626"}),
    Plot.ruleY(yTicks, {y: d => d, x1: 2500 - tickLenM, x2: 2500, stroke: "#262626"}),
    Plot.axisX(xTicks, {tickSize: 0, tickPadding: 16, tickFormat: d => String(d), fontSize: 24, label: null}),
    Plot.axisY(yTicks, {tickSize: 0, tickPadding: 9, tickFormat: d => String(d), fontSize: 24, label: null}),
    Plot.text(["transect 3000280: 1965-2016"], {frameAnchor: "top", dy: -17, lineAnchor: "middle", fontSize: 26.5, fontWeight: "bold", fill: "#000"}),
    Plot.text(["afstand tot RSP"], {frameAnchor: "bottom", dy: 60, lineAnchor: "middle", fontSize: 26, fill: "#262626"}),
    Plot.text(["jaar"], {frameAnchor: "left", dx: -84, rotate: -90, lineAnchor: "middle", fontSize: 26, fill: "#262626"}),
    // annotation graphics
    Plot.line(channelLeft, {x: d => d[0], y: d => d[1], stroke: INK, strokeWidth: 3, curve: "natural"}),
    Plot.line(channelRight, {x: d => d[0], y: d => d[1], stroke: INK, strokeWidth: 3, curve: "natural"}),
    Plot.line(vLine, {x: d => d[0], y: d => d[1], stroke: INK, strokeWidth: 3}),
    Plot.ruleY(markYears, {y: d => d[1], x1: markX[0], x2: markX[1], stroke: INK, strokeWidth: 3}),
    Plot.text(markYears, {x: markX[2], y: d => d[2], text: d => d[0], textAnchor: "start", fontSize: 24, fontWeight: "bold", fill: INK}),
    Plot.link(solidArrowUp, {x1: d => d[0], y1: d => d[1], x2: d => d[2], y2: d => d[3], stroke: INK, strokeWidth: 3}),
    Plot.link(dashed150, {x1: d => d[0], y1: d => d[1], x2: d => d[2], y2: d => d[3], stroke: INK, strokeWidth: 2.5, strokeDasharray: "7,5"}),
    Plot.dot(arrowHeads, {x: d => d[0], y: d => d[1], rotate: d => d[2], symbol: "triangle", r: 9, fill: INK, stroke: "none"}),
    Plot.arrow(openArrows, {x1: d => d[0], y1: d => d[1], x2: d => d[2], y2: d => d[3], stroke: INK, strokeWidth: 3, headLength: 14, headAngle: 50}),
    Plot.arrow(doubleArrows, {x1: d => d[0], y1: d => d[1], x2: d => d[2], y2: d => d[3], stroke: INK, strokeWidth: 3, headLength: 11, headAngle: 60}),
    Plot.arrow(dashedArrows, {x1: d => d[0], y1: d => d[1], x2: d => d[2], y2: d => d[3], stroke: INK, strokeWidth: 3, headLength: 11, headAngle: 60, strokeDasharray: "12,8"}),
    Plot.text(["150m"], {x: 611, y: 1995.5, fontSize: 28, fill: INK}),
    Plot.text(["1970"], {x: 1670, y: 1969.45, textAnchor: "start", fontSize: 24, fontWeight: "bold", fill: INK}),
    Plot.text(smallNotes, {x: d => d[1], y: d => d[2], text: d => d[0], fontSize: 24, fill: INK}),
    Plot.text(yearLabels, {x: d => d[1], y: d => d[2], text: d => d[0], fontSize: 24, fontWeight: "bold", fill: INK}),
    Plot.text(noteLines, {x: d => d[1], y: d => d[2], text: d => d[0], textAnchor: "start", fontSize: 24, fill: INK})
  ]
});
document.getElementById("chart").appendChild(chart);
</script></body></html>
